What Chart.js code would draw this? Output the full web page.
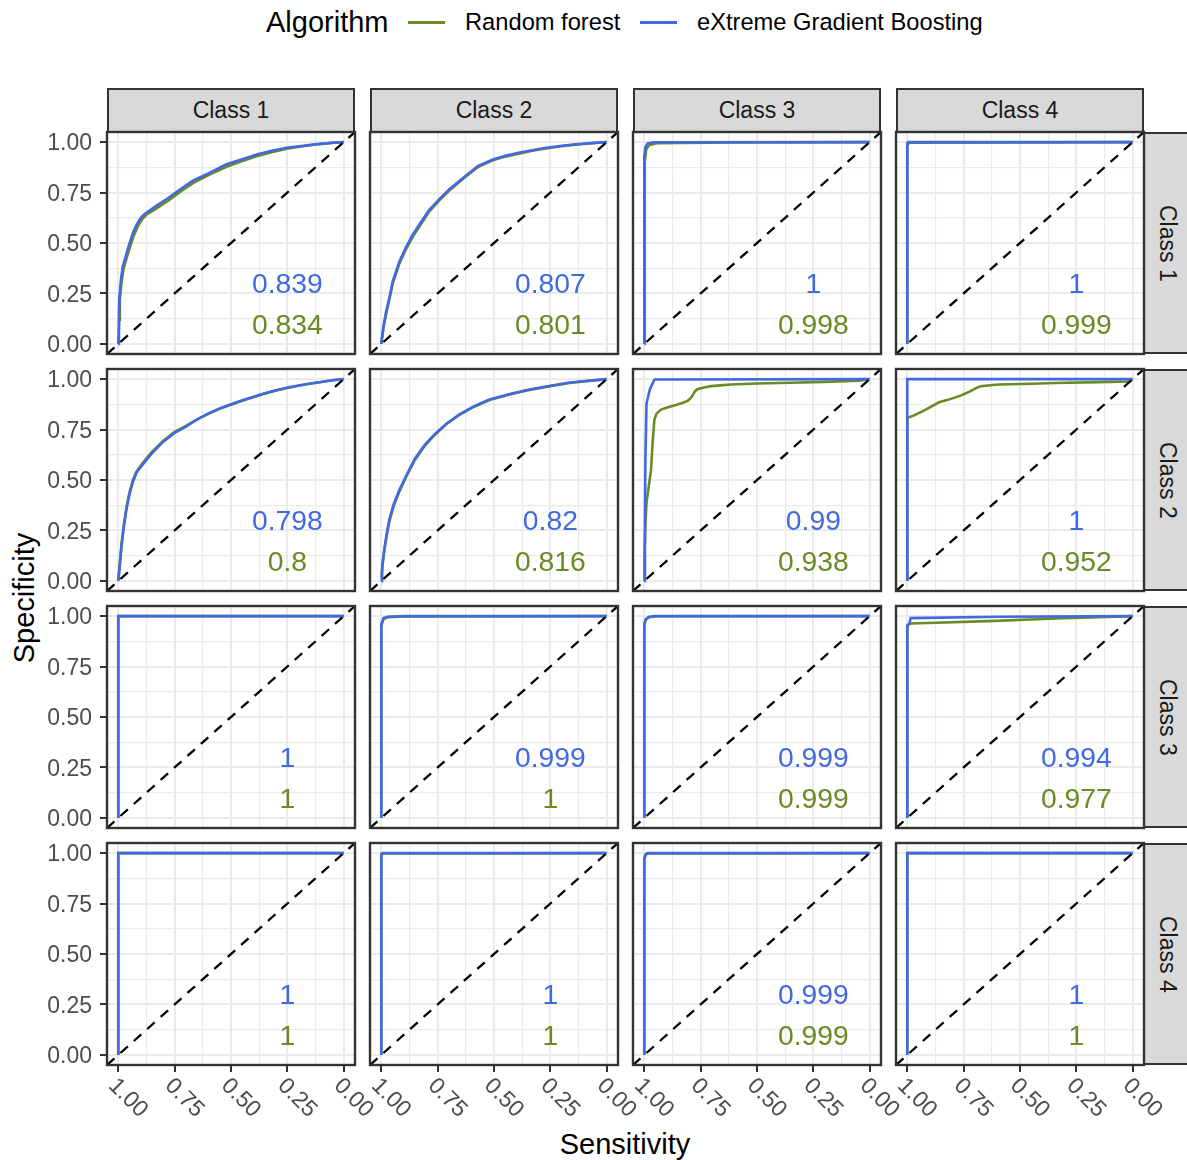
<!DOCTYPE html>
<html>
<head>
<meta charset="utf-8">
<title>ROC curves by class</title>
<script src="https://cdn.jsdelivr.net/npm/chart.js@4.4.1/dist/chart.umd.min.js"></script>
<style>
  html, body { margin: 0; padding: 0; background: #ffffff; }
  body { width: 1187px; height: 1160px; position: relative; overflow: hidden;
         font-family: "Liberation Sans", Arial, sans-serif; }
  .txt { position: absolute; white-space: nowrap; line-height: 1; color: #000; }
  .key { position: absolute; height: 3px; }
  .strip { position: absolute; box-sizing: border-box; background: #D9D9D9; border: 2px solid #333333;
           color: #1A1A1A; font-size: 23px; display: flex; align-items: center; justify-content: center; }
  .strip.side span { writing-mode: vertical-rl; }
  canvas { position: absolute; }
</style>
</head>
<body>

<div class="txt" style="left:266px; top:7.5px; font-size:29px;">Algorithm</div>
<div class="key" style="left:408px; top:20.5px; width:37px; background:#698B22;"></div>
<div class="txt" style="left:465px; top:10.5px; font-size:23.7px;">Random forest</div>
<div class="key" style="left:640px; top:20.5px; width:37px; background:#4169E1;"></div>
<div class="txt" style="left:697px; top:10.5px; font-size:23.7px;">eXtreme Gradient Boosting</div>

<div class="txt" style="left:625px; top:1129.5px; font-size:29px; transform:translateX(-50%);">Sensitivity</div>
<div class="txt" style="left:24px; top:598px; font-size:29px; transform:translate(-50%,-50%) rotate(-90deg);">Specificity</div>

<script>
// ---- facet classes and axis ticks ----
const classNames = ['Class 1', 'Class 2', 'Class 3', 'Class 4'];
const gridVals = [0, 0.125, 0.25, 0.375, 0.5, 0.625, 0.75, 0.875, 1];
const majorVals = [0, 0.25, 0.5, 0.75, 1];
const tickLabels = ['0.00', '0.25', '0.50', '0.75', '1.00'];

// ---- AUC per panel (rows = row facet, cols = column facet) ----
const aucRF  = [[0.834, 0.801, 0.998, 0.999], [0.8, 0.816, 0.938, 0.952], [1, 1, 0.999, 0.977], [1, 1, 0.999, 1]];
const aucXGB = [[0.839, 0.807, 1, 1], [0.798, 0.82, 0.99, 1], [1, 0.999, 0.999, 0.994], [1, 1, 0.999, 1]];

// ---- ROC curves: [sensitivity, specificity] ----
// row Class 1
const rf_r1c1 = [[1,0],[0.996,0.12],[0.993,0.22],[0.985,0.31],[0.977,0.37],[0.962,0.43],[0.948,0.48],[0.93,0.54],[0.912,0.585],[0.893,0.62],[0.875,0.64],[0.825,0.675],[0.78,0.708],[0.72,0.758],[0.667,0.798],[0.6,0.836],[0.52,0.878],[0.45,0.906],[0.386,0.93],[0.32,0.95],[0.253,0.967],[0.18,0.979],[0.12,0.988],[0.05,0.996],[0,1]];
const xgb_r1c1 = [[1,0],[0.997,0.15],[0.995,0.23],[0.988,0.32],[0.98,0.385],[0.968,0.43],[0.956,0.477],[0.935,0.55],[0.918,0.592],[0.9,0.625],[0.882,0.645],[0.83,0.685],[0.785,0.718],[0.72,0.77],[0.667,0.81],[0.6,0.845],[0.52,0.89],[0.45,0.915],[0.386,0.939],[0.32,0.957],[0.253,0.972],[0.18,0.982],[0.12,0.99],[0.05,0.997],[0,1]];
const rf_r1c2 = [[1,0],[0.99,0.08],[0.978,0.15],[0.962,0.23],[0.949,0.3],[0.934,0.35],[0.919,0.4],[0.89,0.47],[0.86,0.532],[0.82,0.6],[0.786,0.658],[0.74,0.714],[0.698,0.76],[0.64,0.816],[0.572,0.876],[0.505,0.91],[0.45,0.928],[0.386,0.944],[0.33,0.957],[0.269,0.968],[0.2,0.979],[0.136,0.987],[0.07,0.994],[0,1]];
const xgb_r1c2 = [[1,0],[0.99,0.09],[0.978,0.163],[0.962,0.24],[0.949,0.311],[0.934,0.36],[0.919,0.41],[0.89,0.48],[0.86,0.543],[0.82,0.61],[0.786,0.666],[0.74,0.72],[0.698,0.766],[0.64,0.82],[0.572,0.881],[0.505,0.914],[0.45,0.932],[0.386,0.948],[0.33,0.96],[0.269,0.972],[0.2,0.982],[0.136,0.989],[0.07,0.995],[0,1]];
const rf_r1c3 = [[1,0],[0.998,0.9],[0.992,0.96],[0.98,0.985],[0.94,0.995],[0.6,0.998],[0,1]];
const xgb_r1c3 = [[1,0],[1,0.93],[0.995,0.975],[0.985,0.993],[0.96,0.999],[0,1]];
const rf_r1c4 = [[1,0],[1,0.985],[0.99,0.997],[0,1]];
const xgb_r1c4 = [[1,0],[1,0.995],[0.995,1],[0,1]];
// row Class 2
const rf_r2c1 = [[1,0],[0.993,0.09],[0.985,0.19],[0.975,0.28],[0.963,0.37],[0.95,0.44],[0.935,0.5],[0.92,0.54],[0.9,0.572],[0.875,0.607],[0.85,0.64],[0.8,0.695],[0.75,0.738],[0.7,0.768],[0.65,0.8],[0.6,0.828],[0.55,0.853],[0.5,0.873],[0.45,0.893],[0.4,0.91],[0.35,0.928],[0.3,0.943],[0.25,0.956],[0.2,0.967],[0.15,0.977],[0.1,0.986],[0.05,0.994],[0,1]];
const xgb_r2c1 = [[1,0],[0.993,0.08],[0.985,0.18],[0.975,0.27],[0.963,0.36],[0.95,0.43],[0.935,0.49],[0.92,0.535],[0.9,0.565],[0.875,0.6],[0.85,0.633],[0.8,0.69],[0.75,0.733],[0.7,0.765],[0.65,0.8],[0.6,0.83],[0.55,0.855],[0.5,0.875],[0.45,0.895],[0.4,0.912],[0.35,0.93],[0.3,0.945],[0.25,0.958],[0.2,0.968],[0.15,0.978],[0.1,0.986],[0.05,0.994],[0,1]];
const rf_r2c2 = [[1,0],[0.997,0.035],[0.995,0.075],[0.985,0.16],[0.975,0.23],[0.964,0.295],[0.945,0.37],[0.919,0.445],[0.89,0.515],[0.853,0.595],[0.81,0.665],[0.764,0.722],[0.71,0.778],[0.653,0.823],[0.59,0.862],[0.52,0.896],[0.43,0.924],[0.343,0.946],[0.25,0.965],[0.165,0.981],[0.08,0.991],[0,1]];
const xgb_r2c2 = [[1,0],[0.997,0.04],[0.995,0.082],[0.985,0.17],[0.975,0.24],[0.964,0.305],[0.945,0.38],[0.919,0.453],[0.89,0.52],[0.853,0.602],[0.81,0.67],[0.764,0.726],[0.71,0.78],[0.653,0.825],[0.59,0.865],[0.52,0.899],[0.43,0.926],[0.343,0.948],[0.25,0.967],[0.165,0.983],[0.08,0.992],[0,1]];
const rf_r2c3 = [[1,0],[0.999,0.14],[0.995,0.28],[0.99,0.387],[0.98,0.47],[0.97,0.55],[0.963,0.684],[0.955,0.8],[0.945,0.83],[0.926,0.849],[0.895,0.86],[0.867,0.869],[0.835,0.88],[0.808,0.892],[0.795,0.905],[0.786,0.918],[0.775,0.94],[0.764,0.95],[0.735,0.958],[0.704,0.965],[0.616,0.973],[0.5,0.978],[0.35,0.982],[0.2,0.986],[0.05,0.992],[0,1]];
const xgb_r2c3 = [[1,0],[0.997,0.3],[0.995,0.6],[0.99,0.88],[0.975,0.95],[0.955,0.998],[0,1]];
const rf_r2c4 = [[1,0],[1,0.808],[0.97,0.82],[0.933,0.84],[0.9,0.86],[0.859,0.885],[0.82,0.897],[0.763,0.918],[0.74,0.93],[0.719,0.94],[0.695,0.955],[0.674,0.965],[0.62,0.971],[0.593,0.973],[0.45,0.977],[0.342,0.981],[0.15,0.985],[0.017,0.988],[0,1]];
const xgb_r2c4 = [[1,0],[1,1],[0,1]];
// row Class 3
const rf_r3c1 = [[1,0],[1,1],[0,1]];
const xgb_r3c1 = [[1,0],[1,1],[0,1]];
const rf_r3c2 = [[1,0],[1,0.95],[0.99,0.985],[0.97,0.995],[0.9,0.998],[0,1]];
const xgb_r3c2 = [[1,0],[1,0.96],[0.99,0.99],[0.97,0.997],[0.9,1],[0,1]];
const rf_r3c3 = [[1,0],[1,0.955],[0.993,0.982],[0.98,0.994],[0.95,0.999],[0,1]];
const xgb_r3c3 = [[1,0],[1,0.96],[0.993,0.985],[0.98,0.996],[0.95,1],[0,1]];
const rf_r3c4 = [[1,0],[1,0.955],[0.985,0.963],[0.64,0.975],[0.34,0.988],[0,1]];
const xgb_r3c4 = [[1,0],[1,0.95],[0.99,0.965],[0.985,0.99],[0.6,0.997],[0,1]];
// row Class 4
const rf_r4c1 = [[1,0],[1,1],[0,1]];
const xgb_r4c1 = [[1,0],[1,1],[0,1]];
const rf_r4c2 = [[1,0],[1,0.99],[0.99,0.998],[0,1]];
const xgb_r4c2 = [[1,0],[1,0.995],[0.995,1],[0,1]];
const rf_r4c3 = [[1,0],[1,0.965],[0.995,0.99],[0.985,0.998],[0,1]];
const xgb_r4c3 = [[1,0],[1,0.97],[0.995,0.993],[0.985,1],[0,1]];
const rf_r4c4 = [[1,0],[1,1],[0,1]];
const xgb_r4c4 = [[1,0],[1,1],[0,1]];

const rfCurves = [[rf_r1c1, rf_r1c2, rf_r1c3, rf_r1c4], [rf_r2c1, rf_r2c2, rf_r2c3, rf_r2c4],
                  [rf_r3c1, rf_r3c2, rf_r3c3, rf_r3c4], [rf_r4c1, rf_r4c2, rf_r4c3, rf_r4c4]];
const xgbCurves = [[xgb_r1c1, xgb_r1c2, xgb_r1c3, xgb_r1c4], [xgb_r2c1, xgb_r2c2, xgb_r2c3, xgb_r2c4],
                   [xgb_r3c1, xgb_r3c2, xgb_r3c3, xgb_r3c4], [xgb_r4c1, xgb_r4c2, xgb_r4c3, xgb_r4c4]];

// ---- layout ----
const GREEN = '#698B22', BLUE = '#4169E1', GRID = '#EBEBEB', DARK = '#333333', AXIS_TXT = '#4D4D4D';
const FONT = '"Liberation Sans", Arial, sans-serif';
const colLeft = [107, 370, 633, 896], rowTop = [132, 369, 606, 843];
const W = 248, H = 222;
const ML = 75, MR = 45, MT = 4, MB = 70;
const TICK_LEN = 7;
const isMajor = v => majorVals.some(m => Math.abs(m - v) < 1e-9);

// strips
classNames.forEach((name, c) => {
  const d = document.createElement('div');
  d.className = 'strip';
  Object.assign(d.style, { left: colLeft[c] + 'px', top: '88px', width: W + 'px', height: '45px' });
  d.innerHTML = '<span>' + name + '</span>';
  document.body.appendChild(d);
});
classNames.forEach((name, r) => {
  const d = document.createElement('div');
  d.className = 'strip side';
  Object.assign(d.style, { left: '1143px', top: rowTop[r] + 'px', width: '48px', height: H + 'px' });
  d.innerHTML = '<span>' + name + '</span>';
  document.body.appendChild(d);
});

// panel frame, AUC labels and tick labels on the outer panels
const panelDecor = {
  id: 'panelDecor',
  afterDatasetsDraw(chart, args, opts) {
    const { ctx, chartArea: a, scales: { x, y } } = chart;
    ctx.save();
    ctx.font = '28.3px ' + FONT;
    ctx.textAlign = 'center';
    ctx.textBaseline = 'alphabetic';
    const cx = x.getPixelForValue(0.25);
    ctx.fillStyle = BLUE;
    ctx.fillText(String(opts.xgb), cx, y.getPixelForValue(0.3) + 10);
    ctx.fillStyle = GREEN;
    ctx.fillText(String(opts.rf), cx, y.getPixelForValue(0.1) + 10);
    ctx.strokeStyle = DARK;
    ctx.lineWidth = 2.4;
    ctx.strokeRect(a.left, a.top, a.right - a.left, a.bottom - a.top);
    ctx.restore();
  },
  afterDraw(chart, args, opts) {
    const { ctx, chartArea: a, scales: { x, y } } = chart;
    ctx.save();
    ctx.font = '23px ' + FONT;
    ctx.fillStyle = AXIS_TXT;
    if (opts.left) {
      ctx.textAlign = 'right';
      ctx.textBaseline = 'alphabetic';
      majorVals.forEach((v, i) => {
        ctx.fillText(tickLabels[i], a.left - TICK_LEN - 8, y.getPixelForValue(v) + 8.2);
      });
    }
    if (opts.bottom) {
      ctx.textAlign = 'left';
      ctx.textBaseline = 'alphabetic';
      majorVals.forEach((v, i) => {
        ctx.save();
        ctx.translate(x.getPixelForValue(v) + 1, a.bottom + 10);
        ctx.rotate(Math.PI / 4);
        ctx.fillText(tickLabels[i], 0, 16.5);
        ctx.restore();
      });
    }
    ctx.restore();
  }
};

function setTicks(scale) { scale.ticks = gridVals.map(v => ({ value: v })); }

for (let r = 0; r < 4; r++) {
  for (let c = 0; c < 4; c++) {
    const cv = document.createElement('canvas');
    const cw = ML + W + MR, ch = MT + H + MB;
    cv.width = cw; cv.height = ch;
    Object.assign(cv.style, { left: (colLeft[c] - ML) + 'px', top: (rowTop[r] - MT) + 'px',
                              width: cw + 'px', height: ch + 'px' });
    document.body.appendChild(cv);
    const leftEdge = c === 0, bottomEdge = r === 3;

    new Chart(cv, {
      type: 'scatter',
      data: {
        datasets: [
          { label: 'diagonal', data: [[1.05, -0.05], [-0.05, 1.05]], showLine: true,
            borderColor: '#000', borderWidth: 2.3, borderDash: [10, 8], pointRadius: 0, order: 0 },
          { label: 'eXtreme Gradient Boosting', data: xgbCurves[r][c], showLine: true,
            borderColor: BLUE, borderWidth: 2.6, pointRadius: 0, tension: 0, order: 1 },
          { label: 'Random forest', data: rfCurves[r][c], showLine: true,
            borderColor: GREEN, borderWidth: 2.6, pointRadius: 0, tension: 0, order: 2 }
        ]
      },
      options: {
        responsive: false,
        animation: false,
        events: [],
        layout: { padding: { left: 0, right: MR, top: MT, bottom: 0 }, autoPadding: false },
        plugins: {
          legend: { display: false },
          tooltip: { enabled: false },
          panelDecor: { rf: aucRF[r][c], xgb: aucXGB[r][c], bottom: bottomEdge, left: leftEdge }
        },
        scales: {
          x: {
            type: 'linear', reverse: true, min: -0.05, max: 1.05,
            afterBuildTicks: setTicks,
            afterFit: s => { s.height = MB; },
            ticks: { display: false },
            border: { display: false },
            grid: {
              color: GRID,
              lineWidth: ctx => isMajor(ctx.tick.value) ? 2 : 1.2,
              drawTicks: true, tickLength: TICK_LEN, tickWidth: 2,
              tickColor: ctx => (bottomEdge && isMajor(ctx.tick.value)) ? DARK : 'rgba(0,0,0,0)'
            }
          },
          y: {
            type: 'linear', min: -0.05, max: 1.05,
            afterBuildTicks: setTicks,
            afterFit: s => { s.width = ML; },
            ticks: { display: false },
            border: { display: false },
            grid: {
              color: GRID,
              lineWidth: ctx => isMajor(ctx.tick.value) ? 2 : 1.2,
              drawTicks: true, tickLength: TICK_LEN, tickWidth: 2,
              tickColor: ctx => (leftEdge && isMajor(ctx.tick.value)) ? DARK : 'rgba(0,0,0,0)'
            }
          }
        }
      },
      plugins: [panelDecor]
    });
  }
}
</script>
</body>
</html>
